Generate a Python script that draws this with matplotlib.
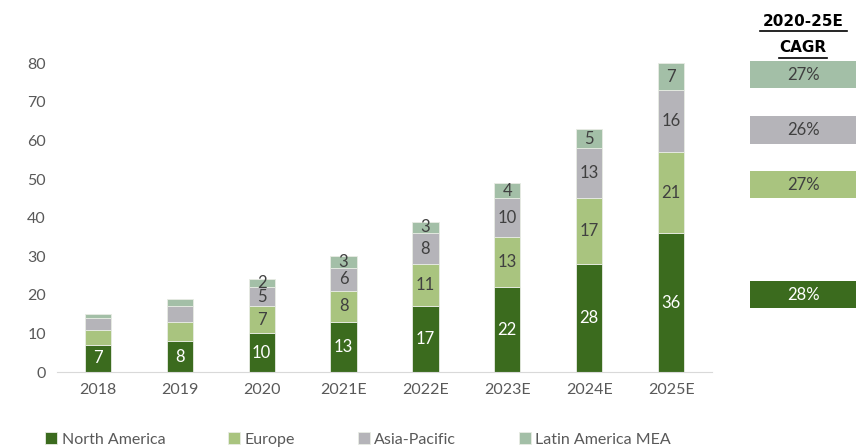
import matplotlib
matplotlib.use("Agg")
import matplotlib.pyplot as plt
from matplotlib.patches import Rectangle
import numpy as np

plt.rcParams['font.family'] = ['Lato', 'DejaVu Sans']

years = ["2018", "2019", "2020", "2021E", "2022E", "2023E", "2024E", "2025E"]
north_america = [7, 8, 10, 13, 17, 22, 28, 36]
europe = [4, 5, 7, 8, 11, 13, 17, 21]
asia_pacific = [3, 4, 5, 6, 8, 10, 13, 16]
latin_mea = [1, 2, 2, 3, 3, 4, 5, 7]
series_names = ["North America", "Europe", "Asia-Pacific", "Latin America MEA"]
cagr = ["28%", "27%", "26%", "27%"]
colors = ["#3b6b1e", "#a9c47f", "#b5b4b9", "#a3bfa7"]
label_colors = ["white", "#404040", "#404040", "#404040"]

W, H = 856, 447
fig = plt.figure(figsize=(W / 100, H / 100), dpi=100)
ax = fig.add_axes([57 / W, (H - 372) / H, (712 - 57) / W, (372 - 44) / H])

x = np.arange(len(years))
series = [north_america, europe, asia_pacific, latin_mea]
bottom = np.zeros(len(years))
for i, (vals, name, c) in enumerate(zip(series, series_names, colors)):
    vals = np.array(vals, dtype=float)
    ax.bar(x, vals, 0.32, bottom=bottom, color=c, label=name,
           edgecolor="#e8ece4", linewidth=0.6)
    for j, v in enumerate(vals):
        if i > 0 and j < 2:
            continue
        ax.text(x[j], bottom[j] + v / 2, f"{int(v)}", ha="center", va="center",
                fontsize=12, color=label_colors[i])
    bottom += vals

ax.set_xlim(-0.5, len(years) - 0.5)
ax.set_ylim(0, 85)
ax.set_yticks(range(0, 81, 10))
ax.set_xticks(x)
ax.set_xticklabels(years)
ax.tick_params(axis="both", length=0, labelsize=11.5, colors="#595959", pad=8)
for s in ["top", "right", "left"]:
    ax.spines[s].set_visible(False)
ax.spines["bottom"].set_color("#d9d9d9")

leg = ax.legend(loc="upper center", bbox_to_anchor=(0.46, -0.15), ncol=4,
                frameon=False, fontsize=11.5, handlelength=0.75, handleheight=0.75,
                columnspacing=3.9, handletextpad=0.3, borderpad=0.2)
for t in leg.get_texts():
    t.set_color("#595959")

# CAGR panel
head_font = ['DejaVu Sans']
fig.text(803 / W, 1 - 21 / H, "2020-25E", ha="center", va="center",
         fontsize=11, fontweight="bold", color="black", family=head_font)
fig.text(803 / W, 1 - 48 / H, "CAGR", ha="center", va="center",
         fontsize=11, fontweight="bold", color="black", family=head_font)
fig.add_artist(plt.Line2D([760 / W, 847 / W], [1 - 31 / H, 1 - 31 / H], color="black", lw=1.2))
fig.add_artist(plt.Line2D([779 / W, 827 / W], [1 - 58 / H, 1 - 58 / H], color="black", lw=1.2))

boxes = [(281, 308), (171, 198), (116, 144), (61, 88)]
for (top, bot), c, txt, tc in zip(boxes, colors, cagr, label_colors):
    fig.patches.append(Rectangle((750 / W, 1 - bot / H), (856 - 750) / W, (bot - top) / H,
                                 transform=fig.transFigure, facecolor=c, edgecolor="none"))
    fig.text(803 / W, 1 - (top + bot) / 2 / H, txt, ha="center", va="center",
             fontsize=12, color=tc)

fig.savefig("out.png", dpi=100)
